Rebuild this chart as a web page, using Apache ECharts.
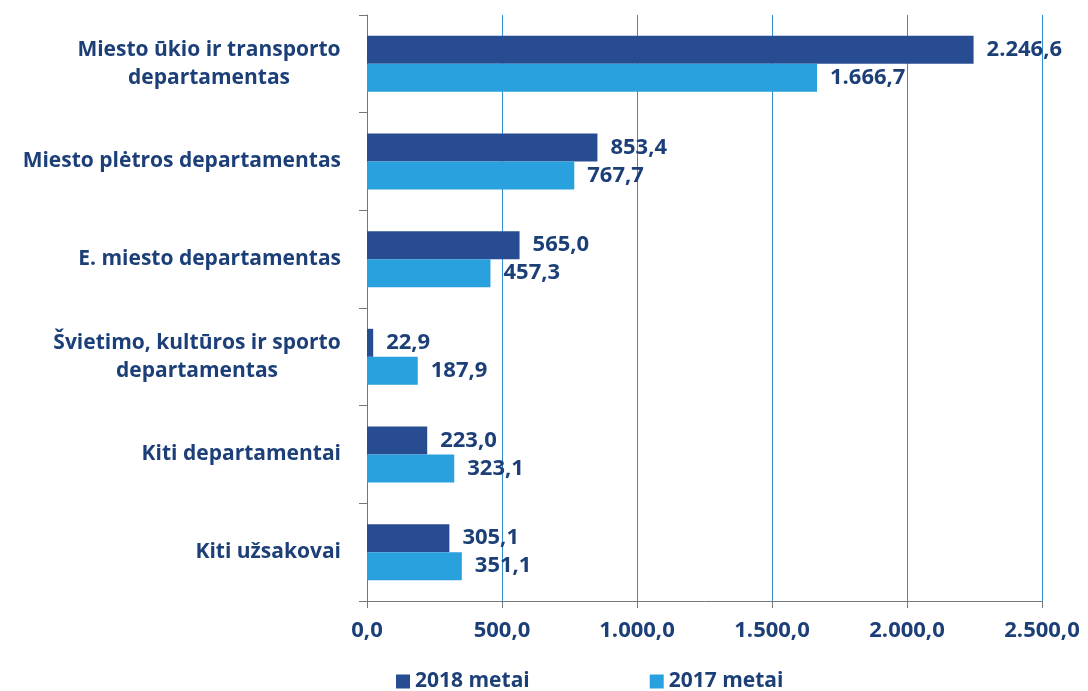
<!DOCTYPE html>
<html>
<head>
<meta charset="utf-8">
<script src="https://cdn.jsdelivr.net/npm/echarts@6/dist/echarts.min.js"></script>
<style>
  html, body { margin: 0; padding: 0; background: #fff; }
  #chart { width: 1088px; height: 691px; }
</style>
</head>
<body>
<div id="chart"></div>
<script>
const categories = [
  "Miesto ūkio ir transporto\ndepartamentas",
  "Miesto plėtros departamentas",
  "E. miesto departamentas",
  "Švietimo, kultūros ir sporto\ndepartamentas",
  "Kiti departamentai",
  "Kiti užsakovai"
];
const values2018 = [2246.6, 853.4, 565.0, 22.9, 223.0, 305.1];
const values2017 = [1666.7, 767.7, 457.3, 187.9, 323.1, 351.1];
const seriesNames = ["2018 metai", "2017 metai"];

const textColor = "#1c3f78";
const fontFamily = "'Open Sans', sans-serif";
const catFontSize = 21;

// lithuanian number format: 2.246,6
function fmt(v, digits) {
  const parts = v.toFixed(digits).split(".");
  parts[0] = parts[0].replace(/\B(?=(\d{3})+(?!\d))/g, ".");
  return parts.join(",");
}

// two-line labels: lines centred inside their own block, block right aligned
const ctx = document.createElement("canvas").getContext("2d");
ctx.font = "bold " + catFontSize + "px 'Open Sans'";
const rich = {};
categories.forEach((c, i) => {
  const w = Math.max(...c.split("\n").map(l => ctx.measureText(l).width));
  rich["c" + i] = {
    width: Math.ceil(w),
    align: "center",
    color: textColor,
    fontSize: catFontSize,
    fontWeight: "bold",
    fontFamily: fontFamily,
    lineHeight: 28
  };
});
function catLabel(v, i) {
  const lines = v.split("\n");
  if (lines.length === 1) return v;
  return lines.map(l => "{c" + i + "|" + l + "}").join("\n");
}

const labelStyle = {
  show: true,
  position: "right",
  distance: 13,
  color: textColor,
  fontSize: 22,
  fontWeight: "bold",
  fontFamily: fontFamily,
  formatter: p => fmt(p.value, 1)
};

const chart = echarts.init(document.getElementById("chart"));
chart.setOption({
  animation: false,
  grid: { left: 367, right: 46, top: 15, bottom: 90 },
  legend: {
    data: seriesNames,
    top: 666,
    left: 391,
    itemGap: 120,
    itemWidth: 14,
    itemHeight: 14,
    icon: "rect",
    textStyle: { color: textColor, fontSize: 21, fontWeight: "bold", fontFamily: fontFamily }
  },
  xAxis: {
    type: "value",
    min: 0,
    max: 2500,
    interval: 500,
    axisLine: { show: true, lineStyle: { color: "#777", width: 1 } },
    axisTick: { show: true, length: 7, lineStyle: { color: "#777" } },
    splitLine: { show: true, lineStyle: { color: "#2f8fd0", width: 1 } },
    axisLabel: {
      margin: 19,
      color: textColor,
      fontSize: 22,
      fontWeight: "bold",
      fontFamily: fontFamily,
      formatter: v => fmt(v, 1)
    }
  },
  yAxis: {
    type: "category",
    inverse: true,
    data: categories,
    axisLine: { show: true, lineStyle: { color: "#777", width: 1 } },
    axisTick: { show: true, length: 8, lineStyle: { color: "#777" } },
    axisLabel: {
      margin: 26,
      color: textColor,
      fontSize: catFontSize,
      fontWeight: "bold",
      fontFamily: fontFamily,
      lineHeight: 28,
      formatter: catLabel,
      rich: rich
    }
  },
  series: [
    {
      name: seriesNames[0],
      type: "bar",
      data: values2018,
      barWidth: 28,
      barGap: "0%",
      itemStyle: { color: "#284c91" },
      label: labelStyle
    },
    {
      name: seriesNames[1],
      type: "bar",
      data: values2017,
      barWidth: 28,
      barGap: "0%",
      itemStyle: { color: "#28a1de" },
      label: labelStyle
    }
  ]
});
</script>
</body>
</html>
